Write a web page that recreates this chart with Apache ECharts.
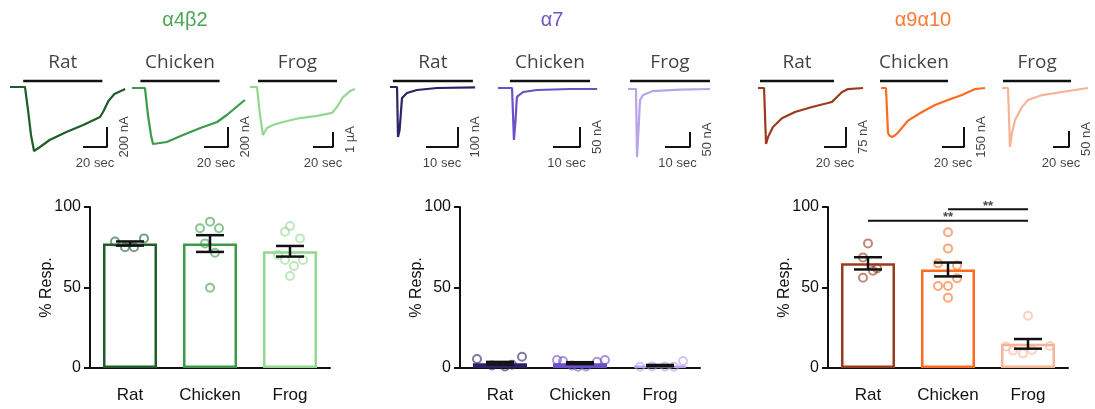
<!DOCTYPE html>
<html><head><meta charset="utf-8">
<script src="https://cdn.jsdelivr.net/npm/echarts@6/dist/echarts.min.js"></script>
<style>html,body{margin:0;padding:0;background:#fff}#c{width:1095px;height:409px}</style>
</head><body><div id="c"></div>
<script>
// ================= DATA =================
const species = ['Rat', 'Chicken', 'Frog'];
const receptors = ['α4β2', 'α7', 'α9α10'];

// --- example current traces: [time (s), current (nA)] ---
const a4b2RatTrace = [[0,0],[12.5,0],[15,-230],[17.5,-480],[20,-640],[25,-600],[33,-530],[47,-450],[61,-380],[75,-300],[78,-240],[82,-140],[87,-70],[96,-20]];
const a4b2ChickenTrace = [[0,0],[10.8,0],[13.3,-270],[15.8,-470],[17.5,-560],[29,-540],[42.5,-470],[57,-400],[71,-340],[79,-270],[94,-120]];
const a4b2FrogTrace = [[0,0],[7,0],[10,-1870],[13,-3200],[17,-2730],[23,-2530],[33,-2330],[50,-2070],[67,-1930],[82,-1730],[87,-1330],[93,-670],[100,-270],[105,-130]];
const a7RatTrace = [[0,0],[2.2,0],[2.5,-250],[3.0,-215],[3.75,-55],[5.3,-30],[8.4,-15],[14.7,-5],[26.6,-2]];
const a7ChickenTrace = [[0,0],[5.2,0],[5.9,-130],[6.5,-80],[7.0,-22],[9.3,-10],[14.4,-5],[26.7,-2.5],[36.7,-2.5]];
const a7FrogTrace = [[0,0],[3.2,0],[3.6,-227],[4.2,-137],[4.8,-37],[6.0,-20],[10,-7],[20.8,-2],[32.8,0]];
const a9a10RatTrace = [[0,0],[5.5,0],[7.3,-210],[9.1,-184],[13.6,-146],[21.8,-113],[33.6,-90],[49.1,-71],[63.6,-56],[67.3,-52],[71.8,-34],[76.4,-15],[81.8,-4],[95.5,0]];
const a9a10ChickenTrace = [[0,0],[4.5,0],[6.4,-338],[8,-360],[10,-368],[12.5,-358],[15.5,-335],[24.5,-245],[37.3,-180],[49.1,-128],[60.9,-90],[73.6,-53],[85.5,-8],[94.5,0]];
const a9a10FrogTrace = [[0,0],[7.5,0],[10,-184],[12.5,-141],[16.3,-100],[25,-59],[32.5,-37.5],[50,-22],[75,-12.5],[107.5,0]];

// agonist application windows [start, end] (s)
const a4b2App = [[11,77],[7,73],[8,87]];
const a7App = [[0.9,25.9],[4.4,34.1],[0.8,32.8]];
const a9a10App = [[1.8,69.1],[-0.9,60.9],[1.3,86.3]];

// scale bars: time (s), amplitude (nA) and amplitude labels
const a4b2ScaleTime = [20, 20, 20];
const a4b2ScaleAmp = [200, 200, 1000];
const a4b2ScaleLabel = ['200 nA', '200 nA', '1 µA'];
const a7ScaleTime = [10, 10, 10];
const a7ScaleAmp = [100, 50, 50];
const a7ScaleLabel = ['100 nA', '50 nA', '50 nA'];
const a9a10ScaleTime = [20, 20, 20];
const a9a10ScaleAmp = [75, 150, 50];
const a9a10ScaleLabel = ['75 nA', '150 nA', '50 nA'];

// --- % response summaries ---
const yTicks = [0, 50, 100];
const a4b2Mean = [77.3, 77.3, 72.5];
const a4b2Sem = [1.3, 5.2, 3.3];
const a4b2RatPts = [78.5, 75, 75, 80.5];
const a4b2ChickenPts = [90.9, 86.8, 86.8, 77.4, 71.6, 49.9];
const a4b2FrogPts = [88.2, 84.7, 80.5, 70.2, 67.1, 67.1, 63.4, 57.1];

const a7Mean = [3.0, 3.0, 1.5];
const a7Sem = [0.8, 0.6, 0.4];
const a7RatPts = [5.6, 1.5, 1.0, 2.0, 7.0];
const a7ChickenPts = [5.0, 4.3, 0.8, 3.9, 5.0, 1.5, 1.0];
const a7FrogPts = [0.8, 1.0, 1.0, 0.8, 4.3];

const a9a10Mean = [65.0, 61.2, 15.0];
const a9a10Sem = [3.8, 4.3, 3.0];
const a9a10RatPts = [77.4, 68.7, 60.4, 61.9, 56.1];
const a9a10ChickenPts = [84.3, 74.3, 65.0, 63.6, 55.7, 50.9, 50.9, 43.7];
const a9a10FrogPts = [32.5, 13.3, 10.8, 9.1, 11.2, 13.7];

// significance: [from category, to category, level, text]
const a9a10Sig = [[0, 2, 91.5, '**'], [1, 2, 98.6, '**']];

// ================= LAYOUT / STYLE =================
const colorsA4b2 = ['#1f5e2b', '#3b9b48', '#93d891'];
const colorsA7 = ['#2c2266', '#6b50c8', '#b8a4ea'];
const colorsA9a10 = ['#9b3b1d', '#fd6b1f', '#f6b396'];
const titleColors = ['#49a651', '#6d54c4', '#fb7a35'];
const titleX = [185, 552, 923];
const APP_Y = 81;
const CANVAS_W = 1095;
const traceLayout = [
  [{x0:10, base:87, sx:1.2, sy:0.1, sbx:107, sby:147}, {x0:132, base:88, sx:1.2, sy:0.1, sbx:228, sby:147}, {x0:250, base:87, sx:1.0, sy:0.015, sbx:333, sby:147}],
  [{x0:390, base:87, sx:3.2, sy:0.2, sbx:458, sby:147}, {x0:498, base:88, sx:2.7, sy:0.4, sbx:580, sby:147}, {x0:628, base:89, sx:2.5, sy:0.3, sbx:690, sby:147}],
  [{x0:758, base:88, sx:1.1, sy:0.267, sbx:846, sby:147}, {x0:881, base:88, sx:1.1, sy:0.133, sbx:964, sby:147}, {x0:1002, base:88, sx:0.8, sy:0.32, sbx:1069, sby:147}]
];
const barLeft = [90, 460, 828];
const jitA4b2 = [[-15,-5,4,14],[0,-10,9,-5,5,0],[0,-5,10,-12,-5,13,4,0]];
const jitA7 = [[-23,-8,5,12,22],[-23,-17,-2,17,25,-8,6],[-20,-8,5,14,23]];
const jitA9a10 = [[0,-5,5,9,-5],[0,0,-10,9,9,-10,0,0],[0,-22,-15,-5,4,22]];

const FONT = 'Liberation Sans, Arial, sans-serif';
const grids = [], xAxes = [], yAxes = [], series = [];
const hidden = {show:false};

function addTrace(trace, app, tSize, aSize, aLabel, L, color, name) {
  const gi = grids.length, xi = xAxes.length, yi = yAxes.length;
  const top = 60, bottom = 185, pad = 8;
  const left = L.x0 - pad;
  const width = Math.min(150, CANVAS_W - 2 - left);
  grids.push({left: left, top: top, width: width, height: bottom - top});
  xAxes.push({type:'value', gridIndex:gi, min:-pad / L.sx, max:(width - pad) / L.sx, show:false, splitLine:hidden});
  yAxes.push({type:'value', gridIndex:gi, min:-(bottom - L.base) / L.sy, max:(L.base - top) / L.sy, show:false, splitLine:hidden});
  const ax = {xAxisIndex:xi, yAxisIndex:yi, silent:true};
  series.push(Object.assign({type:'line', data:trace, symbol:'none', lineStyle:{color:color, width:2.2}, z:3}, ax));
  const barI = (L.base - APP_Y) / L.sy;
  series.push(Object.assign({type:'line', data:[[app[0], barI], [app[1], barI]], symbol:'none', lineStyle:{color:'#111', width:2.5}}, ax));
  series.push(Object.assign({type:'scatter', data:[[(app[0] + app[1]) / 2, barI]], symbolSize:1, itemStyle:{color:'rgba(0,0,0,0)'},
    label:{show:true, position:'top', distance:8, formatter:name, fontFamily:'Open Sans', fontSize:19, color:'#111'}}, ax));
  const tc = (L.sbx - L.x0) / L.sx, ib = (L.base - L.sby) / L.sy;
  series.push(Object.assign({type:'line', data:[[tc - tSize, ib], [tc, ib], [tc, ib + aSize]], symbol:'none', lineStyle:{color:'#111', width:2}}, ax));
  series.push(Object.assign({type:'scatter', data:[[tc - tSize / 2, ib]], symbolSize:1, itemStyle:{color:'rgba(0,0,0,0)'},
    label:{show:true, position:'bottom', distance:9, formatter:tSize + ' sec', fontFamily:FONT, fontSize:13, color:'#111'}}, ax));
  series.push(Object.assign({type:'scatter', data:[[tc, ib + aSize / 2]], symbolSize:1, itemStyle:{color:'rgba(0,0,0,0)'},
    label:{show:true, position:'inside', offset:[0, 17], rotate:90, formatter:aLabel, fontFamily:FONT, fontSize:13, color:'#111'}}, ax));
}

function addBars(left, means, sems, pts, jit, colors, sig) {
  const gi = grids.length, yi = yAxes.length, xc = xAxes.length, xv = xc + 1;
  grids.push({left:left, top:207, width:240, height:161});
  xAxes.push({type:'category', gridIndex:gi, data:species, offset:10,
    axisLine:{lineStyle:{color:'#111', width:2}},
    axisTick:{alignWithLabel:true, length:6, lineStyle:{color:'#111', width:2}},
    axisLabel:{fontSize:17, color:'#111', margin:9, fontFamily:FONT}, splitLine:hidden});
  xAxes.push({type:'value', gridIndex:gi, min:-0.5, max:2.5, show:false, splitLine:hidden});
  yAxes.push({type:'value', gridIndex:gi, min:yTicks[0], max:yTicks[2], interval:yTicks[1] - yTicks[0],
    axisLine:{show:true, onZero:false, lineStyle:{color:'#111', width:2}},
    axisTick:{show:true, length:6, lineStyle:{color:'#111', width:2}},
    splitLine:hidden, axisLabel:{fontSize:16, color:'#111', margin:9, fontFamily:FONT},
    name:'% Resp.', nameLocation:'middle', nameGap:35, nameMoveOverlap:false, nameTextStyle:{fontSize:16, color:'#111', fontFamily:FONT}});
  series.push({type:'bar', xAxisIndex:xc, yAxisIndex:yi, barWidth:54, z:2, silent:true,
    data:means.map((m, i) => ({value:m, itemStyle:{color:'rgba(255,255,255,0)', borderColor:colors[i], borderWidth:2.5}}))});
  pts.forEach((arr, i) => {
    series.push({type:'scatter', xAxisIndex:xv, yAxisIndex:yi, z:3, silent:true, symbol:'circle', symbolSize:8,
      data:arr.map((v, j) => [i + jit[i][j] / 80, v]),
      itemStyle:{color:'rgba(255,255,255,0)', borderColor:colors[i], borderWidth:2, opacity:0.6}});
  });
  series.push({type:'custom', xAxisIndex:xv, yAxisIndex:yi, z:5, silent:true,
    data:means.map((m, i) => [i, m, sems[i]]), encode:{x:0, y:1},
    renderItem:function (params, api) {
      const x = api.value(0), m = api.value(1), s = api.value(2);
      const pt = api.coord([x, m + s]), pb = api.coord([x, m - s]);
      const hw = 14, st = {stroke:'#111', lineWidth:2.5};
      return {type:'group', children:[
        {type:'line', shape:{x1:pt[0], y1:pt[1], x2:pb[0], y2:pb[1]}, style:st},
        {type:'line', shape:{x1:pt[0] - hw, y1:pt[1], x2:pt[0] + hw, y2:pt[1]}, style:st},
        {type:'line', shape:{x1:pb[0] - hw, y1:pb[1], x2:pb[0] + hw, y2:pb[1]}, style:st}
      ]};
    }});
  (sig || []).forEach(s => {
    series.push({type:'line', xAxisIndex:xv, yAxisIndex:yi, symbol:'none', silent:true, z:4,
      data:[[s[0], s[2]], [s[1], s[2]]], lineStyle:{color:'#111', width:2}});
    series.push({type:'scatter', xAxisIndex:xv, yAxisIndex:yi, symbolSize:1, silent:true, itemStyle:{color:'rgba(0,0,0,0)'},
      data:[[(s[0] + s[1]) / 2, s[2]]],
      label:{show:true, position:'top', distance:-4, formatter:s[3], fontSize:13, fontWeight:'bold', color:'#111', fontFamily:FONT}});
  });
}

// traces
const allTraces = [[a4b2RatTrace, a4b2ChickenTrace, a4b2FrogTrace], [a7RatTrace, a7ChickenTrace, a7FrogTrace], [a9a10RatTrace, a9a10ChickenTrace, a9a10FrogTrace]];
const allApp = [a4b2App, a7App, a9a10App];
const allScaleT = [a4b2ScaleTime, a7ScaleTime, a9a10ScaleTime];
const allScaleA = [a4b2ScaleAmp, a7ScaleAmp, a9a10ScaleAmp];
const allScaleL = [a4b2ScaleLabel, a7ScaleLabel, a9a10ScaleLabel];
const allColors = [colorsA4b2, colorsA7, colorsA9a10];
for (let p = 0; p < 3; p++) {
  for (let s = 0; s < 3; s++) {
    addTrace(allTraces[p][s], allApp[p][s], allScaleT[p][s], allScaleA[p][s], allScaleL[p][s], traceLayout[p][s], allColors[p][s], species[s]);
  }
}
addBars(barLeft[0], a4b2Mean, a4b2Sem, [a4b2RatPts, a4b2ChickenPts, a4b2FrogPts], jitA4b2, colorsA4b2, null);
addBars(barLeft[1], a7Mean, a7Sem, [a7RatPts, a7ChickenPts, a7FrogPts], jitA7, colorsA7, null);
addBars(barLeft[2], a9a10Mean, a9a10Sem, [a9a10RatPts, a9a10ChickenPts, a9a10FrogPts], jitA9a10, colorsA9a10, a9a10Sig);

const chart = echarts.init(document.getElementById('c'));
chart.setOption({
  animation:false,
  backgroundColor:'#fff',
  textStyle:{fontFamily:FONT},
  grid:grids, xAxis:xAxes, yAxis:yAxes, series:series,
  graphic:receptors.map((r, i) => ({type:'text', x:titleX[i], y:20,
    style:{text:r, textAlign:'center', textVerticalAlign:'middle', fontSize:20, fontFamily:FONT, fill:titleColors[i]}}))
});
</script></body></html>
